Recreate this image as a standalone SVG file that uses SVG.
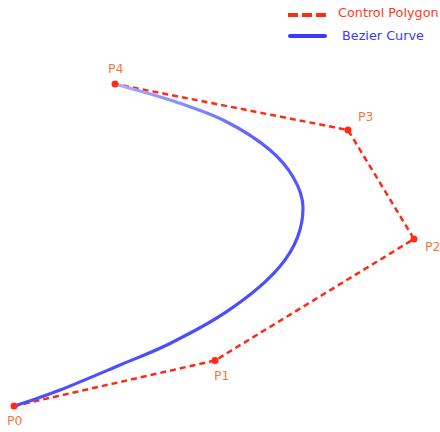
<svg xmlns="http://www.w3.org/2000/svg" width="440" height="432" viewBox="0 0 440 432">
<defs>
<style>
.poly{fill:none;stroke:#ff2a14;stroke-width:2.5;stroke-dasharray:6,4}
.curve{fill:none;stroke:url(#cg);stroke-width:3.2;stroke-linecap:round;stroke-linejoin:round}
.dot{fill:#ff2a14}
.lbl{font-family:"DejaVu Sans",Verdana,sans-serif;font-size:12.5px;fill:#f4783c}
.leg{font-family:"DejaVu Sans",Verdana,sans-serif;font-size:12.8px}
</style>
<linearGradient id="cg" gradientUnits="userSpaceOnUse" x1="115" y1="84" x2="250" y2="300">
<stop offset="0" stop-color="#a8acff"/>
<stop offset="0.5" stop-color="#5a5cff"/>
<stop offset="1" stop-color="#4a4cff"/>
</linearGradient>
</defs>
<rect width="440" height="432" fill="#ffffff"/>
<g id="legend">
<line x1="288" y1="15" x2="326" y2="15" stroke="#ff2a14" stroke-width="4" stroke-dasharray="10,4"/>
<text class="leg" x="338" y="17" fill="#ff3a1a">Control Polygon</text>
<line x1="290" y1="36" x2="325" y2="36" stroke="#3a3aff" stroke-width="4" stroke-linecap="round"/>
<text class="leg" x="342" y="40" fill="#3a3aff">Bezier Curve</text>
</g>
<g id="connectors">
<polyline class="poly" points="14,406 215,360.5 414,239 348,130 115,84"/>
<path id="bezier" class="curve" d="M14,406 C29,401.5 42.3,396.8 60,390 C77.7,383.2 101.7,372.75 120,365 C138.3,357.25 152.2,352.4 170,343.5 C187.8,334.6 208.9,323.7 226.7,311.7 C266.7,284.7 303,253 303,208 C303,188 287.5,164.7 270,150 C258.33,140.17 241.67,129.33 225,121 C208.33,112.67 188.33,106.17 170,100 C151.67,93.83 133.3,89.3 115,84"/>
</g>
<g id="P0"><circle class="dot" cx="14" cy="406" r="3.5"/><text class="lbl" x="7" y="425">P0</text></g>
<g id="P1"><circle class="dot" cx="215" cy="360.5" r="3.5"/><text class="lbl" x="214" y="380">P1</text></g>
<g id="P2"><circle class="dot" cx="414" cy="239" r="3.5"/><text class="lbl" x="425" y="251">P2</text></g>
<g id="P3"><circle class="dot" cx="348" cy="130" r="3.5"/><text class="lbl" x="358" y="121">P3</text></g>
<g id="P4"><circle class="dot" cx="115" cy="84" r="3.5"/><text class="lbl" x="108" y="73">P4</text></g>
</svg>
